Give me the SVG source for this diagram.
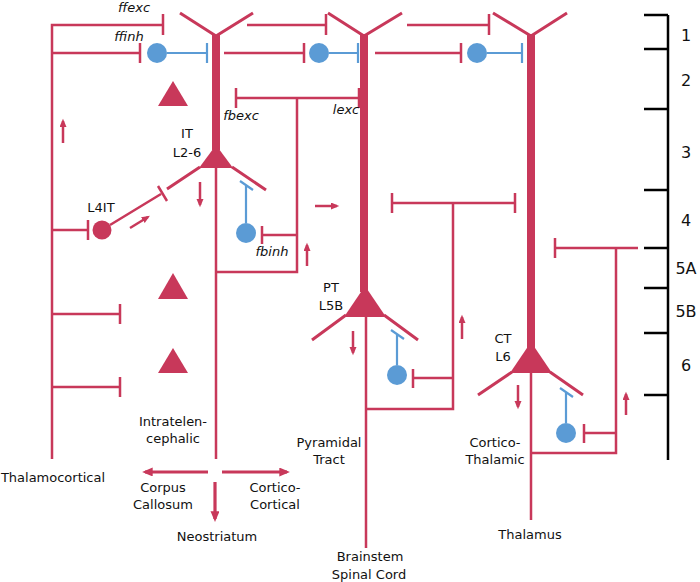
<svg xmlns="http://www.w3.org/2000/svg" width="700" height="582" viewBox="0 0 700 582">
<defs>
<style>
.r{stroke:#c8385a;stroke-width:2.5;fill:none}
.rt{stroke:#c8385a;stroke-width:3;fill:none}
.ap{stroke:#c8385a;stroke-width:8;fill:none}
.b{stroke:#5b9bd5;stroke-width:2.2;fill:none}
.rf{fill:#c8385a}
.bf{fill:#5b9bd5}
.k{stroke:#000;stroke-width:2.5;fill:none}
.ar{stroke:#c8385a;stroke-width:2.5;fill:none;marker-end:url(#ah)}
.arb{stroke:#c8385a;stroke-width:3.2;fill:none;marker-end:url(#ah)}
text{font-family:"DejaVu Sans","Liberation Sans",sans-serif;font-size:13px;text-anchor:middle;fill:#111}
.i{font-style:italic}
.n{font-size:16px}
</style>
<marker id="ah" markerUnits="strokeWidth" markerWidth="4" markerHeight="4" refX="2.4" refY="1.4" orient="auto">
<path d="M0,0 L3.3,1.4 L0,2.8 z" fill="#c8385a"/>
</marker>
</defs>
<rect width="700" height="582" fill="#fff"/>

<g id="scale">
<path class="k" d="M668,15 V460 M644,15 H668 M644,49 H668 M644,109 H668 M644,190 H668 M644,248 H668 M644,288 H668 M644,333 H668 M644,395 H668"/>
<text class="n" x="686" y="41">1</text>
<text class="n" x="686" y="86">2</text>
<text class="n" x="686" y="158">3</text>
<text class="n" x="686" y="226">4</text>
<text class="n" x="686" y="274">5A</text>
<text class="n" x="686" y="317">5B</text>
<text class="n" x="686" y="371">6</text>
</g>

<g id="connectors">
<!-- thalamocortical -->
<path class="r" d="M52,459 V25 H163 M163,14 V35 M52,53 H140 M140,43 V63"/>
<path class="r" d="M52,230 H88 M88,220 V240 M52,314 H120 M120,304 V324 M52,387 H120 M120,377 V397"/>
<!-- ffexc -->
<path class="r" d="M247,25 H326 M326,14 V35 M407,25 H489 M489,14 V35"/>
<!-- ffinh feed -->
<path class="r" d="M224,53 H304 M304,43 V63 M375,53 H461 M461,43 V63"/>
<!-- L4IT axon -->
<path class="r" d="M110,225 L161,194 M158,186 L167,201"/>
<!-- IT axon and collaterals -->
<path class="r" d="M216,168 V459 M216,272 H297 V98 M236,98 H359 M236,88 V108 M359,88 V108 M297,235 H262 M262,226 V244"/>
<!-- PT axon and collaterals -->
<path class="r" d="M366,317 V548 M366,409 H453 V203 M392,203 H515 M392,193 V213 M515,193 V213 M453,378 H413 M413,369 V388"/>
<!-- CT axon and collaterals -->
<path class="r" d="M531,373 V520 M531,453 H616 V248 M555,248 H638 M555,238 V258 M616,433 H584 M584,424 V443"/>
</g>

<g id="IT">
<path class="rt" d="M180,13 L216,36 L253,13"/>
<path class="ap" d="M216,35 V150"/>
<path class="rf" d="M216,145 L199,168 L233,168 z"/>
<path class="rt" d="M200,167 L167,189 M232,167 L266,190"/>
<text x="187" y="138">IT</text>
<text x="187" y="157">L2-6</text>
</g>

<g id="PT">
<path class="rt" d="M328,13 L364,36 L402,13"/>
<path class="ap" d="M364,35 V292"/>
<path class="rf" d="M365,286 L344,317 L386,317 z"/>
<path class="rt" d="M346,315 L312,340 M384,315 L418,340"/>
<text x="331" y="292">PT</text>
<text x="331" y="310">L5B</text>
</g>

<g id="CT">
<path class="rt" d="M493,13 L531,36 L567,13"/>
<path class="ap" d="M531,35 V348"/>
<path class="rf" d="M531,342 L510,373 L552,373 z"/>
<path class="rt" d="M512,372 L478,395 M550,372 L583,395"/>
<text x="503" y="343">CT</text>
<text x="503" y="361">L6</text>
</g>

<g id="L4IT">
<circle class="rf" cx="102" cy="230" r="9.5"/>
<text x="101" y="212">L4IT</text>
</g>

<g id="others">
<path class="rf" d="M173,81 L158,106 L188,106 z"/>
<path class="rf" d="M173,273 L158,299 L188,299 z"/>
<path class="rf" d="M173,348 L158,373 L188,373 z"/>
</g>

<g id="ffinh1">
<circle class="bf" cx="157" cy="53" r="10"/>
<path class="b" d="M167,53 H207 M207,43 V63"/>
</g>
<g id="ffinh2">
<circle class="bf" cx="319" cy="53" r="10"/>
<path class="b" d="M329,53 H358 M358,43 V63"/>
</g>
<g id="ffinh3">
<circle class="bf" cx="477" cy="53" r="10"/>
<path class="b" d="M487,53 H522 M522,43 V63"/>
</g>
<g id="fbinh">
<circle class="bf" cx="246" cy="233" r="10"/>
<path class="b" d="M246,223 V185 M240,181 L253,190"/>
</g>
<g id="PTinh">
<circle class="bf" cx="397" cy="375" r="10"/>
<path class="b" d="M397,365 V335 M391,330 L404,339"/>
</g>
<g id="CTinh">
<circle class="bf" cx="566" cy="433" r="10"/>
<path class="b" d="M566,423 V393 M560,388 L573,397"/>
</g>

<g id="arrows">
<path class="ar" d="M63,143 V121"/>
<path class="ar" d="M130,228 L148,217"/>
<path class="ar" d="M200,182 V205"/>
<path class="ar" d="M307,266 V245"/>
<path class="ar" d="M315,206 H337"/>
<path class="ar" d="M353,331 V353"/>
<path class="ar" d="M462,339 V317"/>
<path class="ar" d="M518,385 V407"/>
<path class="ar" d="M626,415 V394"/>
<path class="arb" d="M208,472 H145"/>
<path class="arb" d="M222,472 H287"/>
<path class="arb" d="M215,482 V519"/>
</g>

<g id="labels">
<text class="i" x="134" y="12">ffexc</text>
<text class="i" x="129" y="41">ffinh</text>
<text class="i" x="241" y="120">fbexc</text>
<text class="i" x="346" y="114">lexc</text>
<text class="i" x="272" y="256">fbinh</text>
<text x="53" y="482">Thalamocortical</text>
<text x="173" y="426">Intratelen-</text>
<text x="173" y="443">cephalic</text>
<text x="163" y="492">Corpus</text>
<text x="163" y="509">Callosum</text>
<text x="275" y="492">Cortico-</text>
<text x="275" y="509">Cortical</text>
<text x="217" y="541">Neostriatum</text>
<text x="329" y="447">Pyramidal</text>
<text x="329" y="464">Tract</text>
<text x="370" y="561">Brainstem</text>
<text x="369" y="579">Spinal Cord</text>
<text x="495" y="447">Cortico-</text>
<text x="495" y="464">Thalamic</text>
<text x="530" y="539">Thalamus</text>
</g>
</svg>
